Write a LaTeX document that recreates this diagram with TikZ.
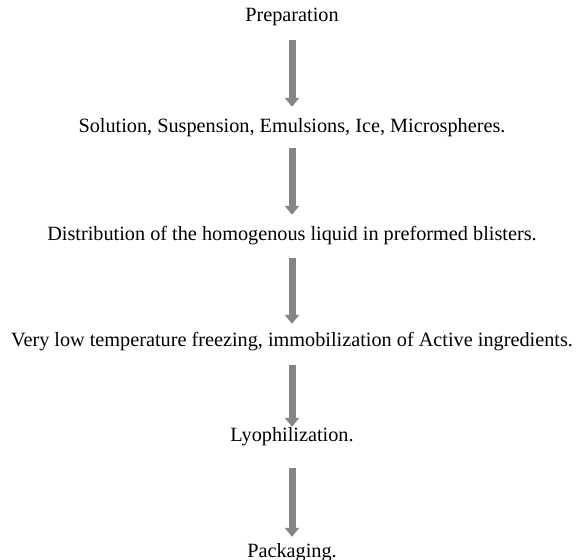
\documentclass[tikz,border=0pt]{standalone}
\usepackage{fontspec}
\setmainfont{Liberation Serif}
\usetikzlibrary{arrows.meta}
\usepackage{xcolor}
\definecolor{arrowgray}{HTML}{858585}

\begin{document}
\begin{tikzpicture}[
    font=\fontsize{20.25}{24}\selectfont,
    stage/.style={inner sep=0pt, text height=14pt, text depth=5pt, anchor=base},
    arrow/.style={-{Triangle[width=14pt,length=9pt]}, line width=7pt, draw=arrowgray}
  ]
    \useasboundingbox (0,0) rectangle (579pt,-560pt);

    \node[stage] (prep) at (292pt,-21pt) {Preparation};
    \node[stage] (forms) at (292pt,-132pt) {Solution, Suspension, Emulsions, Ice, Microspheres.};
    \node[stage] (dosing) at (292pt,-240pt) {Distribution of the homogenous liquid in preformed blisters.};
    \node[stage] (freezing) at (292pt,-346pt) {Very low temperature freezing, immobilization of Active ingredients.};
    \node[stage] (lyo) at (292pt,-441pt) {Lyophilization.};
    \node[stage] (pack) at (292pt,-557pt) {Packaging.};

    \draw[arrow, shorten <=14pt, shorten >=11pt] (prep) -- (forms);
    \draw[arrow, shorten <=11pt, shorten >=11pt] (forms) -- (dosing);
    \draw[arrow, shorten <=13pt, shorten >=8pt] (dosing) -- (freezing);
    \draw[arrow, shorten <=14pt, shorten >=0pt] (freezing) -- (lyo);
    \draw[arrow, shorten <=22pt, shorten >=6pt] (lyo) -- (pack);
  \end{tikzpicture}
\end{document}
